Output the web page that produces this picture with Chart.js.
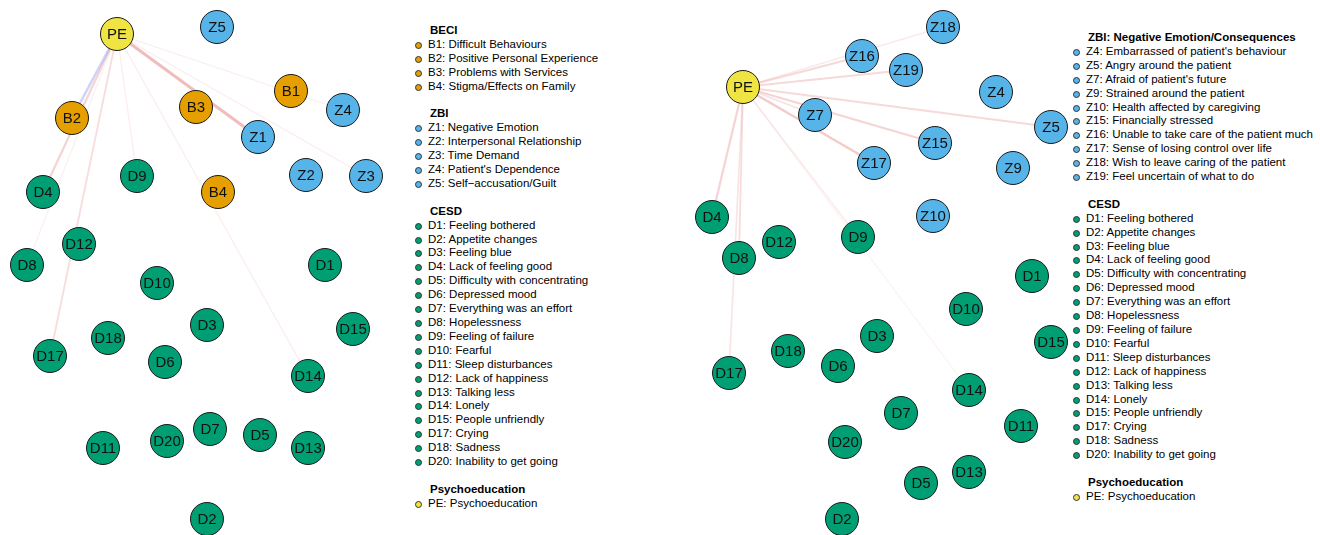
<!DOCTYPE html>
<html>
<head>
<meta charset="utf-8">
<script src="https://cdn.jsdelivr.net/npm/chart.js@4.4.1/dist/chart.umd.min.js"></script>
<style>
  body { margin: 0; background: #fff; width: 1320px; height: 535px; overflow: hidden; position: relative;
         font-family: "Liberation Sans", Arial, Helvetica, sans-serif; }
  canvas { position: absolute; top: 0; }
  .legend { position: absolute; font-size: 11.5px; line-height: 13.9px; color: #000; }
  .legend .h { font-weight: bold; padding-left: 15px; white-space: nowrap; }
  .legend .it { position: relative; padding-left: 13px; white-space: nowrap; }
  .legend .it i { position: absolute; left: 0px; top: 4px; width: 5px; height: 5px; border-radius: 50%;
                  border: 1px solid #333; box-sizing: content-box; }
  .legend .gap { height: 13.9px; }
</style>
</head>
<body>
<canvas id="left" width="400" height="535" style="left:0px"></canvas>
<canvas id="right" width="380" height="535" style="left:690px"></canvas>
<div class="legend" id="legLeft" style="left:415px; top:24px"></div>
<div class="legend" id="legRight" style="left:1073px; top:31px"></div>
<script>
// node layout, left network
const leftNodes = ['PE','Z5','B1','Z4','B2','B3','Z1','D9','B4','Z2','Z3','D4','D12','D8','D1',
                   'D10','D18','D3','D15','D17','D6','D14','D7','D5','D20','D11','D13','D2'];
const leftX = [117,217,291,343,72,196,258,137,218,306,366,43,79,27,325,
               157,108,207,353,50,165,308,210,260,167,103,308,207];
const leftY = [34,27,91,110,118,107,137,176,192,175,176,192,244,265,265,
               283,338,325,329,356,362,376,429,435,441,448,448,519];
// edges from PE (left) and their weights
const leftEdgeTo = ['Z1','B2','D4','D17','D8','D9','D14','Z4','Z3'];
const leftEdgeW  = [0.6,-0.45,0.35,0.25,0.06,0.08,0.08,0.08,0.08];

// node layout, right network
const rightNodes = ['Z18','Z16','Z19','PE','Z4','Z7','Z5','Z15','Z17','Z9','Z10','D4','D9','D12','D8',
                    'D1','D10','D3','D15','D18','D6','D17','D14','D7','D11','D20','D13','D5','D2'];
const rightX = [253,172,216,53,306,125,361,245,184,323,243,22,168,89,49,
                342,276,187,361,98,148,39,279,211,331,155,279,231,152];
const rightY = [27,56,70,87,92,115,127,143,163,168,216,217,237,242,258,
                276,309,336,342,351,366,373,390,413,426,442,472,483,519];
const rightEdgeTo = ['Z17','Z15','Z5','Z19','Z16','Z18','Z7','D4','D8','D17','D9','D14'];
const rightEdgeW  = [0.45,0.35,0.3,0.3,0.3,0.12,0.2,0.35,0.25,0.18,0.12,0.04];

// legend text
const beciItems = ['B1: Difficult Behaviours','B2: Positive Personal Experience','B3: Problems with Services','B4: Stigma/Effects on Family'];
const zbiItems = ['Z1: Negative Emotion','Z2: Interpersonal Relationship','Z3: Time Demand',"Z4: Patient's Dependence",'Z5: Self\u2212accusation/Guilt'];
const zbiNegItems = ["Z4: Embarrassed of patient's behaviour",'Z5: Angry around the patient',"Z7: Afraid of patient's future",
  'Z9: Strained around the patient','Z10: Health affected by caregiving','Z15: Financially stressed',
  'Z16: Unable to take care of the patient much','Z17: Sense of losing control over life',
  'Z18: Wish to leave caring of the patient','Z19: Feel uncertain of what to do'];
const cesdItems = ['D1: Feeling bothered','D2: Appetite changes','D3: Feeling blue','D4: Lack of feeling good',
  'D5: Difficulty with concentrating','D6: Depressed mood','D7: Everything was an effort','D8: Hopelessness',
  'D9: Feeling of failure','D10: Fearful','D11: Sleep disturbances','D12: Lack of happiness','D13: Talking less',
  'D14: Lonely','D15: People unfriendly','D17: Crying','D18: Sadness','D20: Inability to get going'];
const peItems = ['PE: Psychoeducation'];

const groupColors = { B: '#E69F00', Z: '#56B4E9', D: '#009E73', P: '#F0E442' };

function edgeStyle(w) {
  const a = Math.abs(w);
  const alpha = 0.08 + 0.75 * a;
  return {
    color: w >= 0 ? `rgba(226,130,130,${alpha})` : `rgba(140,150,235,${alpha})`,
    width: 1 + 3.5 * a
  };
}

const nodeLabels = {
  id: 'nodeLabels',
  afterDatasetsDraw(chart) {
    const meta = chart.getDatasetMeta(0);
    const ds = chart.data.datasets[0];
    const ctx = chart.ctx;
    ctx.save();
    ctx.font = '15px "Liberation Sans", Arial, sans-serif';
    ctx.textAlign = 'center';
    ctx.textBaseline = 'middle';
    ctx.fillStyle = '#111';
    meta.data.forEach((el, i) => ctx.fillText(ds.data[i].label, el.x, el.y + 1));
    ctx.restore();
  }
};

function makeNetwork(id, names, xs, ys, edgeTo, edgeW, w) {
  const nodes = names.map((n, i) => ({ x: xs[i], y: ys[i], label: n }));
  const pos = {};
  nodes.forEach(p => pos[p.label] = p);
  const edges = edgeTo.map((t, i) => {
    const s = edgeStyle(edgeW[i]);
    return {
      data: [{ x: pos.PE.x, y: pos.PE.y }, { x: pos[t].x, y: pos[t].y }],
      showLine: true,
      borderColor: s.color,
      borderWidth: s.width,
      pointRadius: 0,
      pointHoverRadius: 0,
      clip: false
    };
  });
  return new Chart(document.getElementById(id), {
    type: 'scatter',
    data: {
      datasets: [{
        data: nodes,
        backgroundColor: nodes.map(p => groupColors[p.label[0]]),
        borderColor: '#1a1a1a',
        borderWidth: 1,
        pointRadius: 16.5,
        pointHoverRadius: 16.5,
        clip: false
      }].concat(edges)
    },
    options: {
      responsive: false,
      animation: false,
      events: [],
      layout: { padding: 0, autoPadding: false },
      plugins: { legend: { display: false }, tooltip: { enabled: false } },
      scales: {
        x: { type: 'linear', display: false, min: 0, max: w },
        y: { type: 'linear', display: false, min: 0, max: 535, reverse: true }
      }
    },
    plugins: [nodeLabels]
  });
}

makeNetwork('left', leftNodes, leftX, leftY, leftEdgeTo, leftEdgeW, 400);
makeNetwork('right', rightNodes, rightX, rightY, rightEdgeTo, rightEdgeW, 380);

function buildLegend(id, groups) {
  const el = document.getElementById(id);
  let html = '';
  groups.forEach((g, gi) => {
    if (gi > 0) html += '<div class="gap"></div>';
    html += `<div class="h">${g.title}</div>`;
    g.items.forEach(t => {
      html += `<div class="it"><i style="background:${groupColors[g.key]}"></i>${t}</div>`;
    });
  });
  el.innerHTML = html;
}

buildLegend('legLeft', [
  { title: 'BECI', key: 'B', items: beciItems },
  { title: 'ZBI', key: 'Z', items: zbiItems },
  { title: 'CESD', key: 'D', items: cesdItems },
  { title: 'Psychoeducation', key: 'P', items: peItems }
]);
buildLegend('legRight', [
  { title: 'ZBI: Negative Emotion/Consequences', key: 'Z', items: zbiNegItems },
  { title: 'CESD', key: 'D', items: cesdItems },
  { title: 'Psychoeducation', key: 'P', items: peItems }
]);
</script>
</body>
</html>
